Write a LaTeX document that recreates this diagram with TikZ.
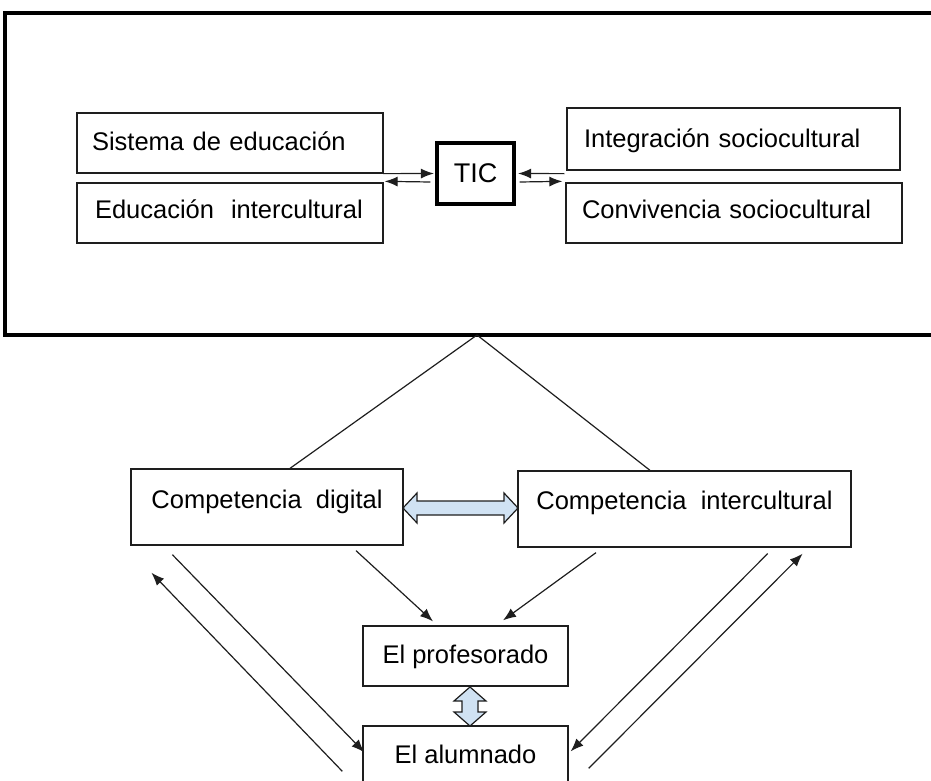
\documentclass[tikz,border=0pt]{standalone}
\usepackage{fontspec}
\setmainfont{Liberation Sans}
\usetikzlibrary{arrows.meta,calc}
\definecolor{arrowfill}{RGB}{208,226,243}
\definecolor{linegray}{RGB}{30,30,30}
\begin{document}
\begin{tikzpicture}[x=1pt,y=-1pt,
  box/.style={draw=linegray, line width=1.3pt, inner ysep=0pt,
    font=\fontsize{25.5}{30}\selectfont, text height=18pt},
  lbox/.style={box, align=left},
  cbox/.style={box, align=center, inner xsep=0pt},
  arr/.style={-{Latex[length=13pt,width=10pt]}, line width=1.2pt, draw=linegray},
  plain/.style={line width=1.2pt, draw=linegray},
  dbl/.style={fill=arrowfill, draw=linegray, line width=1.2pt, line join=miter}]
\useasboundingbox (0,0) rectangle (931,781);
\clip (0,0) rectangle (931,781);

% big frame (open on the right)
\draw[line width=4pt, line join=miter] (935,13) -- (5,13) -- (5,335) -- (935,335);
\coordinate (apex) at (477,335);

% top boxes
\node[lbox, text width=276pt, inner xsep=15pt, minimum height=60pt, text depth=4pt] (sis) at (230,143) {Sistema de educación};
\node[lbox, text width=270pt, inner xsep=18pt, minimum height=60pt, text depth=8pt] (edu) at (230,213) {Educación\ \ intercultural};
\node[lbox, text width=299pt, inner xsep=17pt, minimum height=62pt, text depth=2pt] (int) at (733.5,139) {Integración sociocultural};
\node[lbox, text width=304pt, inner xsep=16pt, minimum height=60pt, text depth=8pt] (conv) at (734,213) {Convivencia sociocultural};
\node[cbox, line width=3.2pt, draw=black, minimum width=77pt, minimum height=61pt, text depth=0pt, font=\fontsize{27}{30}\selectfont] (tic) at (475.5,173.5) {TIC};

% arrows around TIC
\draw[arr] (sis.south east) -- ([xshift=-1.5pt]tic.west);
\draw[arr] ([xshift=-5pt,yshift=-8.5pt]tic.west) -- ([xshift=1pt,yshift=1pt]edu.north east);
\draw[arr] ([xshift=-2pt,yshift=-3pt]int.south west) -- ([xshift=2.5pt]tic.east);
\draw[arr] ([xshift=4pt,yshift=-8.5pt]tic.east) -- ([xshift=-3pt,yshift=1pt]conv.north west);

% competence boxes
\node[cbox, minimum width=272pt, minimum height=76pt, text depth=16pt] (cd) at (267,507) {Competencia\ \ digital};
\node[cbox, minimum width=333pt, minimum height=76pt, text depth=18pt] (ci) at (684.5,509) {Competencia\ \ intercultural};
\node[cbox, minimum width=205pt, minimum height=60pt, text depth=4pt] (prof) at (465.5,656) {El profesorado};
\node[cbox, minimum width=205pt, minimum height=74pt, text depth=18pt] (alum) at (465.5,763) {El alumnado};

% lines from frame
\draw[plain] (apex) -- ([xshift=23pt]cd.north);
\draw[plain] (apex) -- ([xshift=-34.5pt]ci.north);

% block double arrows
\draw[dbl] (403,508) -- (417,493) -- (417,501) -- (504,501) -- (504,493) -- (518,508)
  -- (504,523) -- (504,515) -- (417,515) -- (417,523) -- cycle;
\draw[dbl] (470,687) -- (486,701) -- (478,701) -- (478,712) -- (486,712) -- (470,726)
  -- (454,712) -- (462,712) -- (462,701) -- (454,701) -- cycle;

% arrows to profesorado
\draw[arr] ([xshift=89pt,yshift=-5pt]cd.south) -- ([xshift=-32.5pt,yshift=4pt]prof.north);
\draw[arr] ([xshift=-88.5pt,yshift=-5pt]ci.south) -- ([xshift=37.5pt,yshift=5pt]prof.north);

% arrows alumnado <-> competences
\draw[arr] ([xshift=42pt,yshift=-9pt]cd.south west) -- ([xshift=2pt,yshift=-27pt]alum.north west);
\draw[arr] ([xshift=-20pt,yshift=-46pt]alum.north west) -- ([xshift=21pt,yshift=-27pt]cd.south west);
\draw[arr] ([xshift=-84pt,yshift=-6pt]ci.south east) -- ([xshift=2pt,yshift=-26pt]alum.north east);
\draw[arr] ([xshift=20pt,yshift=-43pt]alum.north east) -- ([xshift=-49pt,yshift=-6pt]ci.south east);
\end{tikzpicture}
\end{document}
